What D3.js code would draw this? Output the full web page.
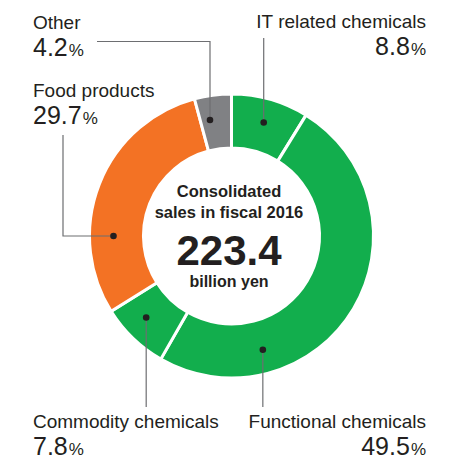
<!DOCTYPE html>
<html>
<head>
<meta charset="utf-8">
<script src="https://cdn.jsdelivr.net/npm/d3@7"></script>
<style>
  body { margin: 0; background: #fff; }
  svg { font-family: "Liberation Sans", Arial, Helvetica, sans-serif; }
</style>
</head>
<body>
<svg class="donut-frame"></svg>
<script>
// segments, clockwise from 12 o'clock
const segments = ["IT related chemicals", "Functional chemicals", "Commodity chemicals", "Food products", "Other"];
const shares = [8.8, 49.5, 7.8, 29.7, 4.2];
const colors = ["#12ae4d", "#12ae4d", "#12ae4d", "#f37224", "#808184"];
const centerLines = ["Consolidated", "sales in fiscal 2016"];
const totalValue = "223.4";
const totalUnit = "billion yen";

const width = 459, height = 459;
const cx = 231.5, cy = 236;
const outerR = 142, innerR = 88, dotR = 118;

// label layout per segment: dot angle (deg), leader end points, text anchor
const labelLayout = [
  {dotAngle: null, leader: [[null, 38]], x: 426, y: 28, anchor: "end"},
  {dotAngle: 164.6, leader: [[null, 407]], x: 426, y: 428, anchor: "end"},
  {dotAngle: 226.3, leader: [[null, 407]], x: 33, y: 428, anchor: "start"},
  {dotAngle: 270, leader: [[63, null], [63, 135]], x: 33, y: 97, anchor: "start"},
  {dotAngle: 349.5, leader: [[null, 41.5], [97, 41.5]], x: 33, y: 29, anchor: "start"}
];

const svg = d3.select(".donut-frame")
  .attr("width", width)
  .attr("height", height);

const pie = d3.pie().sort(null).value(d => d.share);
const arcs = pie(segments.map((name, i) => ({name: name, share: shares[i], i: i})));

const arc = d3.arc().innerRadius(innerR).outerRadius(outerR);

const graph = svg.append("g")
  .attr("transform", "translate(" + cx + "," + cy + ")");

graph.selectAll("path")
  .data(arcs)
  .enter().append("path")
  .attr("d", arc)
  .attr("fill", d => colors[d.data.i])
  .attr("stroke", "#fff")
  .attr("stroke-width", 3)
  .attr("stroke-linejoin", "miter");

// leaders + dots
arcs.forEach((d, i) => {
  const lay = labelLayout[i];
  const ang = lay.dotAngle == null ? (d.startAngle + d.endAngle) / 2 : lay.dotAngle * Math.PI / 180;
  const px = cx + dotR * Math.sin(ang);
  const py = cy - dotR * Math.cos(ang);
  const pts = [[px, py]];
  lay.leader.forEach(p => {
    const prev = pts[pts.length - 1];
    pts.push([p[0] == null ? prev[0] : p[0], p[1] == null ? prev[1] : p[1]]);
  });
  svg.append("path")
    .attr("d", d3.line()(pts))
    .attr("fill", "none")
    .attr("stroke", "#6d6e71")
    .attr("stroke-width", 1.2);
  svg.append("circle")
    .attr("cx", px)
    .attr("cy", py)
    .attr("r", 3.3)
    .attr("fill", "#231f20");

  svg.append("text")
    .attr("x", lay.x)
    .attr("y", lay.y)
    .attr("text-anchor", lay.anchor)
    .attr("fill", "#231f20")
    .attr("font-size", 19)
    .text(d.data.name);
  const num = svg.append("text")
    .attr("x", lay.x)
    .attr("y", lay.y + 27)
    .attr("text-anchor", lay.anchor)
    .attr("fill", "#231f20");
  num.append("tspan")
    .attr("font-size", 25)
    .text(d3.format(".1f")(d.data.share));
  num.append("tspan")
    .attr("font-size", 17)
    .attr("dx", 1)
    .text("%");
});

// centre text
const cxText = 229;
svg.selectAll(".center-line")
  .data(centerLines)
  .enter().append("text")
  .attr("class", "center-line")
  .attr("x", cxText)
  .attr("y", (d, i) => 197 + i * 20.5)
  .attr("text-anchor", "middle")
  .attr("font-size", 16.5)
  .attr("font-weight", "bold")
  .attr("fill", "#231f20")
  .text(d => d);

svg.append("text")
  .attr("x", cxText)
  .attr("y", 265)
  .attr("text-anchor", "middle")
  .attr("font-size", 42)
  .attr("font-weight", "bold")
  .attr("fill", "#231f20")
  .text(totalValue);

svg.append("text")
  .attr("x", cxText)
  .attr("y", 287)
  .attr("text-anchor", "middle")
  .attr("font-size", 16)
  .attr("font-weight", "bold")
  .attr("fill", "#231f20")
  .text(totalUnit);
</script>
</body>
</html>
